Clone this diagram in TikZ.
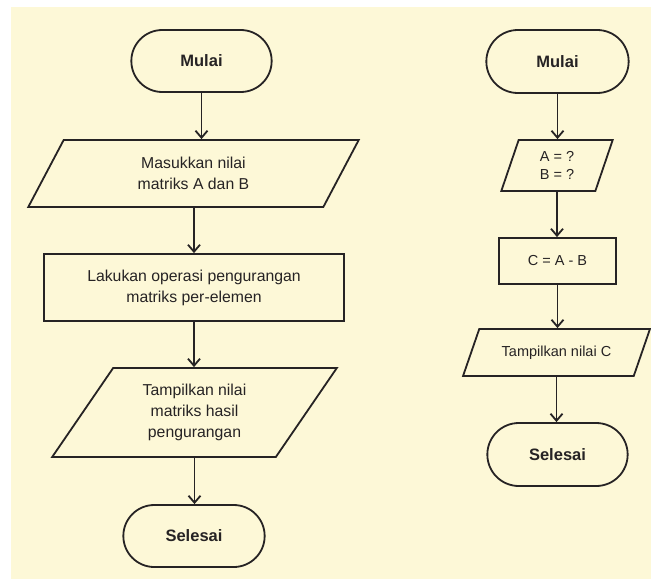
\documentclass[tikz,border=0pt]{standalone}
\usepackage{fontspec}
\setmainfont{Liberation Sans}
\usepackage{tikz}
\usetikzlibrary{arrows.meta,shapes.geometric,shapes.misc}

\definecolor{cream}{RGB}{253,248,215}
\definecolor{ink}{RGB}{38,35,36}

\begin{document}
\begin{tikzpicture}[x=1pt,y=-1pt,line width=1.8pt,draw=ink,text=ink,
	>={Straight Barb[length=7pt,width=12pt]},
	startstop/.style={rounded rectangle,draw,font=\fontsize{16.5}{18}\selectfont\bfseries,minimum height=62pt},
	process/.style={rectangle,draw,align=center,font=\fontsize{15.8}{21}\selectfont},
	io/.style={trapezium,draw,align=center,trapezium stretches=true,font=\fontsize{15.8}{21}\selectfont,inner sep=0pt},
	small/.style={font=\fontsize{14.5}{18}\selectfont}]
			\useasboundingbox (0,0) rectangle (651,579);
			\fill[cream] (11,7) rectangle (651,579);
			
			\node [startstop,minimum width=147pt] (mulaiA) at (201.5,61) {Mulai};
			\node [io,trapezium left angle=65,trapezium right angle=115,minimum width=331pt,minimum height=67pt] (inputA) at (193.5,173.5) {Masukkan nilai\\matriks A dan B};
			\node [process,minimum width=300pt,minimum height=67pt] (hitungA) at (194,287.5) {Lakukan operasi pengurangan\\matriks per-elemen};
			\node [io,trapezium left angle=55.6,trapezium right angle=124.4,minimum width=285pt,minimum height=89pt] (outputA) at (194.5,412.5) {Tampilkan nilai\\matriks hasil\\pengurangan};
			\node [startstop,minimum width=148pt] (selesaiA) at (194,536) {Selesai};
			
			\draw [->] (mulaiA.south) -- (mulaiA.south |- inputA.north);
			\draw [->] (hitungA.north |- inputA.south) -- (hitungA.north);
			\draw [->] (hitungA.south) -- (hitungA.south |- outputA.north);
			\draw [->] (outputA.south) -- (outputA.south |- selesaiA.north);
			
			\node [startstop,minimum width=149pt,minimum height=63pt] (mulaiB) at (557.5,61.5) {Mulai};
			\node [io,small,trapezium left angle=74.6,trapezium right angle=105.4,minimum width=112pt,minimum height=51pt] (inputB) at (557,165.5) {A = ?\\B = ?};
			\node [process,small,minimum width=117pt,minimum height=46pt] (hitungB) at (557.5,261) {C = A - B};
			\node [io,small,trapezium left angle=49.6,trapezium right angle=130.4,minimum width=187pt,minimum height=47pt] (outputB) at (556.5,352.5) {Tampilkan nilai C};
			\node [startstop,minimum width=147pt,minimum height=63pt] (selesaiB) at (557.5,454.5) {Selesai};
			
			\draw [->] (mulaiB.south) -- (mulaiB.south |- inputB.north);
			\draw [->] (inputB.south) -- (inputB.south |- hitungB.north);
			\draw [->] (hitungB.south) -- (hitungB.south |- outputB.north);
			\draw [->] (outputB.south) -- (outputB.south |- selesaiB.north);
\end{tikzpicture}
\end{document}
